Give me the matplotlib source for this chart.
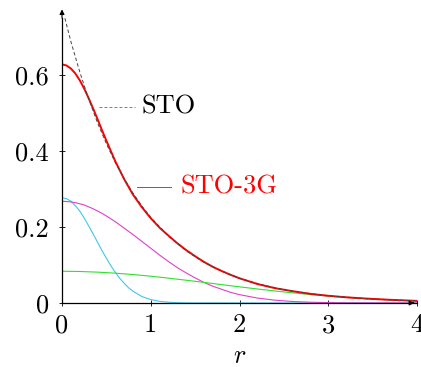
import matplotlib
matplotlib.use("Agg")
import matplotlib.pyplot as plt

# values
r_fine = [0.0, 0.05, 0.1, 0.15, 0.2, 0.25, 0.3, 0.35, 0.4, 0.45, 0.5, 0.6, 0.7,
          0.8, 0.9, 1.0, 1.1, 1.2, 1.3, 1.4, 1.5, 1.6, 1.7, 1.8, 1.9, 2.0, 2.2,
          2.4, 2.6, 2.8, 3.0, 3.2, 3.4, 3.6, 3.8, 4.0]
sto_3g = [0.628, 0.625, 0.617, 0.604, 0.586, 0.564, 0.539, 0.512, 0.484, 0.455,
          0.427, 0.373, 0.326, 0.285, 0.252, 0.223, 0.198, 0.177, 0.157, 0.139,
          0.123, 0.108, 0.095, 0.084, 0.074, 0.065, 0.050, 0.039, 0.031, 0.024,
          0.019, 0.015, 0.012, 0.0095, 0.0073, 0.0056]
gauss_2 = [0.268, 0.267, 0.266, 0.264, 0.261, 0.258, 0.253, 0.248, 0.242, 0.236,
           0.229, 0.214, 0.197, 0.180, 0.162, 0.144, 0.126, 0.109, 0.093, 0.079,
           0.066, 0.054, 0.044, 0.036, 0.028, 0.022, 0.013, 0.0074, 0.0039,
           0.002, 0.001, 0.0004, 0.0002, 0.0001, 0.0, 0.0]

r_cyan = [0.0, 0.05, 0.1, 0.15, 0.2, 0.25, 0.3, 0.35, 0.4, 0.45, 0.5, 0.55, 0.6,
          0.65, 0.7, 0.75, 0.8, 0.9, 1.0, 1.1, 1.2, 1.3, 1.4, 1.5, 2.0, 3.0, 4.0]
gauss_1 = [0.277, 0.2745, 0.268, 0.256, 0.242, 0.2235, 0.203, 0.182, 0.160,
           0.138, 0.118, 0.098, 0.081, 0.065, 0.052, 0.040, 0.031, 0.017,
           0.009, 0.0044, 0.002, 0.0008, 0.0003, 0.0001, 0.0, 0.0, 0.0]

r_green = [0.0, 0.2, 0.4, 0.6, 0.8, 1.0, 1.2, 1.4, 1.6, 1.8, 2.0, 2.2, 2.4, 2.6,
           2.8, 3.0, 3.2, 3.4, 3.6, 3.8, 4.0]
gauss_3 = [0.0835, 0.0829, 0.0812, 0.0785, 0.0749, 0.0705, 0.0654, 0.0599,
           0.0542, 0.0483, 0.0425, 0.0369, 0.0316, 0.0267, 0.0222, 0.0183,
           0.0148, 0.0118, 0.0094, 0.0073, 0.0056]

r_sto = [0.0, 0.1, 0.2, 0.3, 0.4, 0.5, 0.6, 0.7, 0.8, 0.9, 1.0, 1.2, 1.4, 1.6,
         1.8, 2.0, 2.25, 2.5, 2.75, 3.0, 3.5, 4.0]
sto = [0.779, 0.688, 0.608, 0.537, 0.474, 0.419, 0.370, 0.327, 0.289, 0.255,
       0.225, 0.176, 0.137, 0.107, 0.084, 0.065, 0.048, 0.035, 0.026, 0.019,
       0.010, 0.0055]

plt.rcParams["font.family"] = "serif"
plt.rcParams["font.serif"] = ["cmr10"]
plt.rcParams["mathtext.fontset"] = "cm"
plt.rcParams["axes.formatter.use_mathtext"] = True

fig = plt.figure(figsize=(4.21, 3.67), dpi=100)
ax = fig.add_axes([0.1473, 0.1744, 0.8433, 0.7766])

ax.plot(r_cyan, gauss_1, color="#40c8e8", lw=0.8)
ax.plot(r_fine, gauss_2, color="#e040c8", lw=0.8)
ax.plot(r_green, gauss_3, color="#30e030", lw=0.8)
ax.plot(r_fine, sto_3g, color="red", lw=1.4)
ax.plot(r_sto, sto, color="#444444", lw=0.7, ls=(0, (3.5, 2.5)))

ax.set_xlim(0, 4)
ax.set_ylim(0, 0.75)
ax.spines["top"].set_visible(False)
ax.spines["right"].set_visible(False)
for s in ("left", "bottom"):
    ax.spines[s].set_linewidth(0.9)
ax.set_xticks([0, 1, 2, 3, 4])
ax.set_xticklabels(["0", "1", "2", "3", "4"])
ax.set_yticks([0, 0.2, 0.4, 0.6])
ax.set_yticklabels(["0", "0.2", "0.4", "0.6"])
ax.tick_params(direction="inout", length=5, width=0.6, labelsize=19)
ax.tick_params(axis="x", pad=5)
ax.tick_params(axis="y", pad=7)
ax.set_xlabel("$r$", fontsize=19, labelpad=5)

# axis arrows
ax.annotate("", xy=(0, 1.04), xytext=(0, 0.99), xycoords="axes fraction",
            arrowprops=dict(arrowstyle="-|>", lw=0.8, color="black",
                            mutation_scale=7), annotation_clip=False)
ax.annotate("", xy=(1.0, 0), xytext=(0.98, 0), xycoords="axes fraction",
            arrowprops=dict(arrowstyle="-|>", lw=0.8, color="black",
                            mutation_scale=7), annotation_clip=False)

# curve labels
ax.plot([0.42, 0.82], [0.517, 0.517], color="#666666", lw=0.6, ls=(0, (3.5, 2.5)))
ax.text(0.9, 0.517, "STO", fontsize=19, va="center", ha="left")
ax.plot([0.85, 1.23], [0.305, 0.305], color="#666666", lw=0.7)
ax.text(1.33, 0.305, "STO-3G", fontsize=19, va="center", ha="left", color="red")

fig.savefig("out.png", dpi=100)
